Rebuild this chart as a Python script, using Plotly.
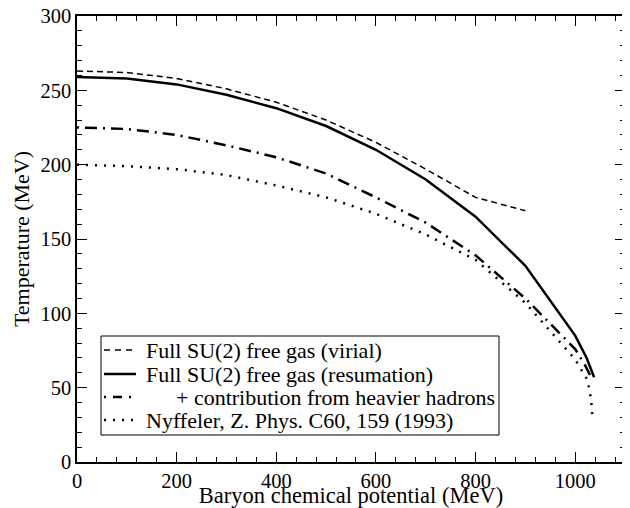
import plotly.graph_objects as go

# Full SU(2) free gas (virial)
virial_mu = [0, 100, 200, 300, 400, 500, 600, 700, 800, 900]
virial_T = [263, 262, 258, 251, 242, 230, 215, 197, 178, 169]

# Full SU(2) free gas (resumation)
resum_mu = [0, 100, 200, 300, 400, 500, 600, 700, 800, 900, 1000, 1023, 1038]
resum_T = [259, 258, 254, 247, 238, 226, 210, 190, 165, 132, 85, 70, 57]

# + contribution from heavier hadrons
heavy_mu = [0, 100, 200, 300, 400, 500, 600, 700, 800, 900, 1000, 1020, 1032]
heavy_T = [225, 224, 220, 213, 205, 194, 178, 161, 139, 110, 76, 65, 57]

# Nyffeler, Z. Phys. C60, 159 (1993)
nyff_mu = [0, 100, 200, 300, 400, 500, 600, 700, 800, 900, 1000, 1025, 1032, 1035]
nyff_T = [200, 199, 197, 193, 186, 178, 167, 153, 136, 107, 69, 55, 42, 28]

names = [
    "Full SU(2) free gas (virial)",
    "Full SU(2) free gas (resumation)",
    "+ contribution from heavier hadrons",
    "Nyffeler, Z. Phys. C60, 159 (1993)",
]
name_indent = [0, 0, 30, 0]

styles = [
    dict(color="black", width=1.5, dash="6px,4px"),
    dict(color="black", width=2.5),
    dict(color="black", width=2.5, dash="2px,6px,12px,6px"),
    dict(color="black", width=2.5, dash="2px,7px"),
]
series = [(virial_mu, virial_T), (resum_mu, resum_T), (heavy_mu, heavy_T), (nyff_mu, nyff_T)]

fig = go.Figure()
for (xs, ys), nm, st in zip(series, names, styles):
    fig.add_trace(go.Scatter(x=xs, y=ys, mode="lines", name=nm, line=st, showlegend=False))

# ---- layout geometry (figure pixels) ----
W, H = 622, 500
L, R, T, B = 69, 5, 8, 46
PW, PH = W - L - R, H - T - B


def px_x(p):
    return (p - L) / PW


def px_y(p):
    return (H - B - p) / PH


ff = "Liberation Serif"

# legend drawn as a framed box with line samples and labels
shapes = [dict(type="rect", xref="paper", yref="paper",
               x0=px_x(93), x1=px_x(491), y0=px_y(427), y1=px_y(328),
               line=dict(color="black", width=1), fillcolor="white", layer="above")]
annotations = []
row_y = [342, 366, 389, 412]
sample_styles = [
    dict(color="black", width=1.5, dash="6px,5px"),
    dict(color="black", width=2.5),
    dict(color="black", width=2.5, dash="2px,7px,9px,7px"),
    dict(color="black", width=2.5, dash="2px,7px"),
]
for ry, nm, st, ind in zip(row_y, names, sample_styles, name_indent):
    shapes.append(dict(type="line", xref="paper", yref="paper",
                       x0=px_x(96), x1=px_x(128), y0=px_y(ry), y1=px_y(ry),
                       line=st, layer="above"))
    annotations.append(dict(text=nm, xref="paper", yref="paper",
                            x=px_x(136 + ind), y=px_y(ry), xanchor="left", yanchor="middle",
                            showarrow=False, font=dict(family=ff, size=22, color="black")))

axis_common = dict(
    showline=True, linecolor="black", linewidth=1.5, mirror="ticks",
    ticks="inside", ticklen=10, tickwidth=1, tickcolor="black",
    showgrid=False, zeroline=False, automargin=False,
    ticklabeloverflow="allow",
    tickfont=dict(family=ff, size=20.5, color="black"),
)

fig.update_layout(
    width=W, height=H,
    margin=dict(l=L, r=R, t=T, b=B),
    paper_bgcolor="white", plot_bgcolor="white",
    font=dict(family=ff, color="black"),
    showlegend=False,
    shapes=shapes,
    annotations=annotations,
)
fig.update_xaxes(
    range=[0, 1100], tickvals=[0, 200, 400, 600, 800, 1000],
    minor=dict(dtick=40, tick0=0, ticks="inside", ticklen=5, tickcolor="black", showgrid=False),
    title=dict(text="Baryon chemical potential (MeV)", standoff=3,
               font=dict(family=ff, size=22.5, color="black")),
    **axis_common,
)
fig.update_yaxes(
    range=[0, 300], tickvals=[0, 50, 100, 150, 200, 250, 300],
    minor=dict(dtick=10, tick0=0, ticks="inside", ticklen=5, tickcolor="black", showgrid=False),
    title=dict(text="Temperature (MeV)", standoff=5,
               font=dict(family=ff, size=22, color="black")),
    **axis_common,
)

fig.write_html("out.html")
